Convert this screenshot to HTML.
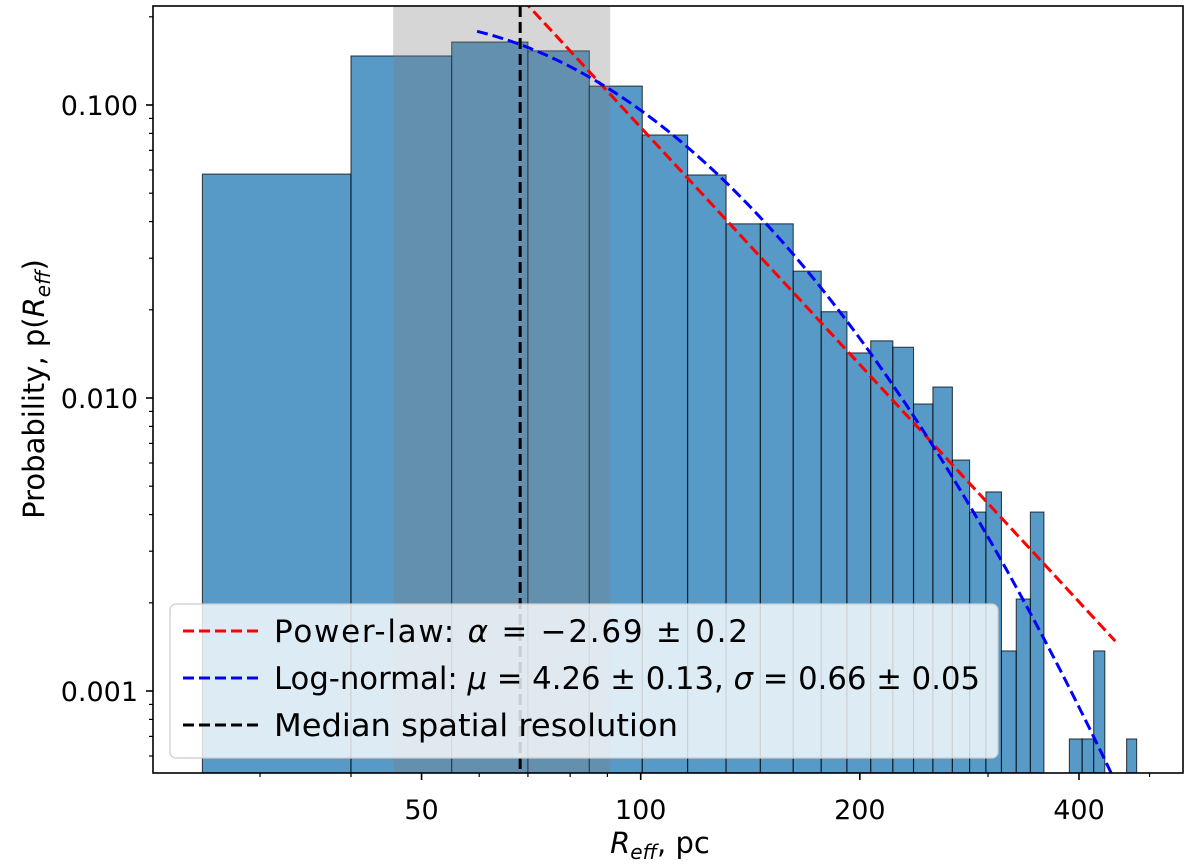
<!DOCTYPE html>
<html><head><meta charset="utf-8">
<style>
html,body{margin:0;padding:0;background:#fff;}
svg{display:block;font-family:"DejaVu Sans","Liberation Sans",sans-serif;}
</style></head>
<body>
<svg id="chart" width="1200" height="865" viewBox="0 0 1200 865" xmlns="http://www.w3.org/2000/svg">
<defs><clipPath id="plotclip"><rect x="153" y="6" width="1030" height="767"/></clipPath></defs>
<g id="bars" clip-path="url(#plotclip)"></g>
<g id="span" clip-path="url(#plotclip)"></g>
<g id="lines" clip-path="url(#plotclip)"></g>
<g id="axes"></g>
<text x="660" y="853" text-anchor="middle" font-size="29"><tspan font-style="italic">R</tspan><tspan font-style="italic" font-size="20" dy="6">eff</tspan><tspan dy="-6">, pc</tspan></text>
<text transform="translate(44,389) rotate(-90)" text-anchor="middle" font-size="29">Probability, p(<tspan font-style="italic">R</tspan><tspan font-style="italic" font-size="20" dy="6">eff</tspan><tspan dy="-6">)</tspan></text>
<g>
<rect x="170" y="604" width="828" height="154" rx="6" fill="#fff" fill-opacity="0.8" stroke="#ccc" stroke-width="1.2"/>
<line x1="183" y1="631" x2="262" y2="631" stroke="#ff0000" stroke-width="3" stroke-dasharray="11,5"/>
<text x="274" y="642" font-size="31" textLength="474" lengthAdjust="spacing">Power-law: <tspan font-style="italic">α</tspan> = −2.69 ± 0.2</text>
<line x1="183" y1="678" x2="262" y2="678" stroke="#0000ff" stroke-width="3" stroke-dasharray="11,5"/>
<text x="274" y="689" font-size="31" textLength="706" lengthAdjust="spacingAndGlyphs">Log-normal: <tspan font-style="italic">μ</tspan> = 4.26 ± 0.13, <tspan font-style="italic">σ</tspan> = 0.66 ± 0.05</text>
<line x1="183" y1="725" x2="262" y2="725" stroke="#000" stroke-width="3" stroke-dasharray="11,5"/>
<text x="274" y="736" font-size="31" textLength="404" lengthAdjust="spacingAndGlyphs">Median spatial resolution</text>
</g>
</svg>
<script>
const binEdges = [25,40,55,70,85,100.5,116,131,146,162,177,192,207,222,237,252,268,283,298,313,328,343,358,373,388,404,419,434,449,465,480];
const binValues = [0.0581,0.147,0.164,0.153,0.116,0.079,0.0577,0.0393,0.0393,0.0271,0.0197,0.01425,0.01567,0.0149,0.00954,0.0109,0.00614,0.00408,0.00478,0.00137,0.00206,0.00408,0,0,0.000686,0.000686,0.00137,0,0,0.000686];
const resolutionSpan = [45.7, 90.8];
const medianResolution = 68.3;
const powerLawAlpha = -2.69;
const powerLawRange = [60, 448.6];
const powerLawRef = [448.6, 0.00148];
const logNormalMu = 4.26;
const logNormalSigma = 0.66;
const logNormalScale = 18.2;
const logNormalRange = [59.6, 445];
const xTickValues = [50,100,200,400];
const xTickLabels = ["50","100","200","400"];
const xMinorValues = [30,40,60,70,80,90,300,500];
const yTickValues = [0.001,0.01,0.1];
const yTickLabels = ["0.001","0.010","0.100"];

const NS="http://www.w3.org/2000/svg";
const L=153,R=1183,T=6,B=773;
function xs(v){return 1079-728*Math.log10(400/v);}
function ys(p){return 105-293*Math.log10(p/0.1);}
function mk(tag,attrs,parent){const e=document.createElementNS(NS,tag);for(const k in attrs)e.setAttribute(k,attrs[k]);parent.appendChild(e);return e;}

const gb=document.getElementById('bars');
for(let i=0;i<binValues.length;i++){
  if(!(binValues[i]>0))continue;
  const x0=xs(binEdges[i]),x1=xs(binEdges[i+1]),y=ys(binValues[i]);
  const r=mk('rect',{x:x0,y:y,width:x1-x0,height:B-y,fill:'#1f77b4','fill-opacity':0.75,stroke:'#000','stroke-opacity':0.7,'stroke-width':1.1},gb);
  
  
}
const gs=document.getElementById('span');
const sp=mk('rect',{x:xs(resolutionSpan[0]),y:T,width:xs(resolutionSpan[1])-xs(resolutionSpan[0]),height:B-T,fill:'#808080','fill-opacity':0.32},gs);



const gl=document.getElementById('lines');
function curve(fn,r0,r1){let d='';const n=120;for(let i=0;i<=n;i++){const v=r0*Math.pow(r1/r0,i/n);d+=(i?'L':'M')+xs(v).toFixed(2)+','+ys(fn(v)).toFixed(2);}return d;}
const plA=powerLawRef[1]/Math.pow(powerLawRef[0],powerLawAlpha);
const pl=mk('path',{d:curve(v=>plA*Math.pow(v,powerLawAlpha),powerLawRange[0],powerLawRange[1]),fill:'none',stroke:'#ff0000','stroke-width':3,'stroke-dasharray':'11,5'},gl);


const lnf=v=>logNormalScale/(v*logNormalSigma*Math.sqrt(2*Math.PI))*Math.exp(-Math.pow(Math.log(v)-logNormalMu,2)/(2*logNormalSigma*logNormalSigma));
const ln=mk('path',{d:curve(lnf,logNormalRange[0],logNormalRange[1]),fill:'none',stroke:'#0000ff','stroke-width':3,'stroke-dasharray':'11,5'},gl);


const md=mk('line',{x1:xs(medianResolution),x2:xs(medianResolution),y1:T,y2:B,stroke:'#000','stroke-width':3,'stroke-dasharray':'11,5'},gl);



const ga=document.getElementById('axes');
const fr=mk('rect',{x:L,y:T,width:R-L,height:B-T,fill:'none',stroke:'#000','stroke-width':1.6},ga);


xTickValues.forEach((v,i)=>{
  const x=xs(v);
  mk('line',{x1:x,x2:x,y1:B,y2:B+7,stroke:'#000','stroke-width':1.6},ga);
  const t=mk('text',{x:x,y:819,'text-anchor':'middle','font-size':27},ga);t.textContent=xTickLabels[i];
  
  
});
xMinorValues.forEach(v=>{const x=xs(v);mk('line',{x1:x,x2:x,y1:B,y2:B+4,stroke:'#000','stroke-width':1.2},ga);});
yTickValues.forEach((v,i)=>{
  const y=ys(v);
  mk('line',{x1:L-7,x2:L,y1:y,y2:y,stroke:'#000','stroke-width':1.6},ga);
  const t=mk('text',{x:138,y:y+10,'text-anchor':'end','font-size':27},ga);t.textContent=yTickLabels[i];
  
  
});
for(let e=-4;e<=-1;e++){for(let m=2;m<=9;m++){const v=m*Math.pow(10,e);const y=ys(v);if(y<T||y>B)continue;mk('line',{x1:L-4,x2:L,y1:y,y2:y,stroke:'#000','stroke-width':1.2},ga);}}
</script>
</body></html>
